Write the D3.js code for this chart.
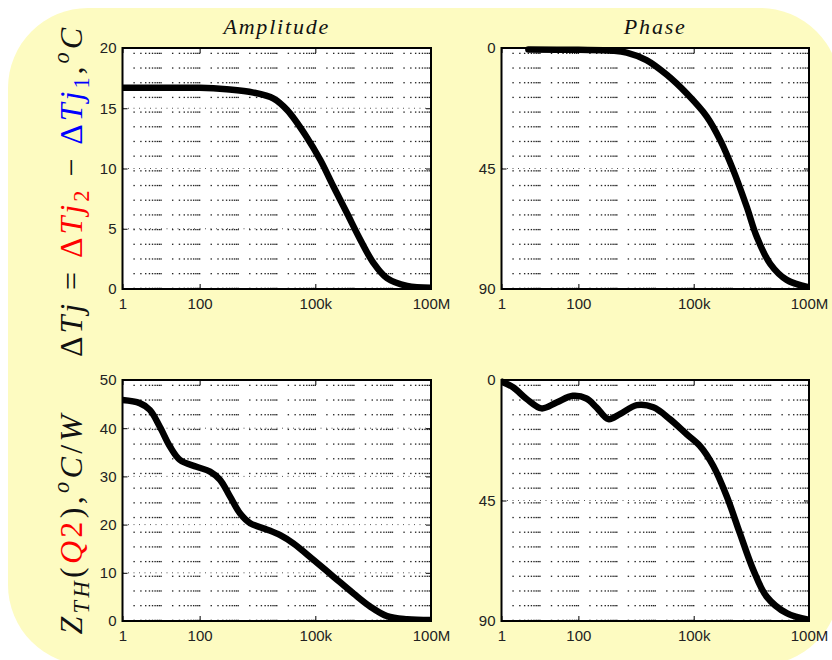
<!DOCTYPE html>
<html>
<head>
<meta charset="utf-8">
<script src="https://cdn.jsdelivr.net/npm/d3@7/dist/d3.min.js"></script>
<style>
  body { margin: 0; background: #ffffff; }
  svg { display: block; }
  .tick text { font-family: "Liberation Sans", Arial, sans-serif; font-size: 15px; fill: #222; }
</style>
</head>
<body>
<svg id="chart" width="832" height="660"></svg>
<script>
// Frequency axis (Hz, log scale)
const freqTicks = [1, 100, 1e5, 1e8];
const freqTickLabels = ["1", "100", "100k", "100M"];

// Junction temperature swing amplitude, °C
const ampTicks = [0, 5, 10, 15, 20];
const ampFreq  = [1, 10, 100, 500, 2500, 8300, 18600, 60000, 135000, 295000, 660000, 1.48e6, 3.24e6, 7.2e6, 2.4e7, 1e8];
const ampValue = [16.7, 16.7, 16.7, 16.57, 16.3, 15.8, 14.85, 12.6, 10.7, 8.5, 6.3, 4.07, 2.15, 0.9, 0.25, 0.1];

// Junction temperature swing phase lag, degrees
const phaseTicks = [0, 45, 90];
const tjPhaseFreq  = [5, 100, 800, 1800, 5900, 20000, 66000, 219000, 490000, 1.07e6, 2.4e6, 4.37e6, 9.8e6, 2.63e7, 1e8];
const tjPhaseValue = [0.6, 0.7, 1.0, 1.7, 4.5, 10, 17, 25.6, 34.4, 45.6, 59.3, 70.5, 80.6, 86.6, 89.4];

// Thermal impedance magnitude of Q2, °C/W
const zTicks = [0, 10, 20, 30, 40, 50];
const zFreq  = [1, 2.8, 5.1, 9.3, 17, 31, 83, 186, 339, 617, 1122, 2042, 5495, 12300, 26900, 89100, 295000, 977000, 2.63e6, 7.24e6, 2.4e7, 1e8];
const zValue = [45.85, 45.2, 43.8, 40.3, 36.2, 33.4, 32.0, 31.0, 29.3, 25.8, 22.3, 20.3, 19.0, 17.8, 16.1, 12.7, 9.2, 5.7, 3.0, 1.0, 0.35, 0.2];

// Thermal impedance phase lag, degrees
const zPhaseFreq  = [1, 2, 4.5, 11, 27, 72, 162, 295, 603, 1200, 3300, 8900, 24000, 66000, 145000, 324000, 724000, 1.58e6, 3.55e6, 7.9e6, 2.63e7, 1e8];
const zPhaseValue = [0.6, 2.7, 7.1, 10.6, 8.4, 5.9, 6.9, 10.2, 14.6, 12.75, 9.4, 10.2, 14.6, 20.25, 24.6, 32.1, 43.4, 57.1, 70.9, 80.9, 87.1, 89.6];

const svg = d3.select("#chart");

// Rounded pale-yellow backdrop
svg.append("rect")
  .attr("x", 8).attr("y", 8)
  .attr("width", 832).attr("height", 657)
  .attr("rx", 80).attr("ry", 80)
  .attr("fill", "#fdfbc1");

let clipId = 0;

function drawPanel(opt) {
  const { x0, x1, y0, y1 } = opt;
  const x = d3.scaleLog().domain([1, 1e8]).range([x0, x1]);
  const y = d3.scaleLinear().domain(opt.yDomain).range(opt.yRange === "down" ? [y0, y1] : [y1, y0]);
  const g = svg.append("g");

  g.append("rect")
    .attr("x", x0).attr("y", y0)
    .attr("width", x1 - x0).attr("height", y1 - y0)
    .attr("fill", "#ffffff");

  // Minor log grid: dotted verticals at 2..10 within each decade
  const cols = [];
  for (let d = 0; d < 8; d++) for (let k = 2; k <= 10; k++) cols.push(k * Math.pow(10, d));
  const rows = d3.range(17).map(i => y0 + 5.3 + i * (y1 - y0 - 6) / 16);
  const dots = [];
  cols.forEach(c => rows.forEach(r => dots.push([x(c), r])));
  g.append("g").selectAll("rect").data(dots).join("rect")
    .attr("x", d => d[0] - 0.7).attr("y", d => d[1] - 0.6)
    .attr("width", 1.4).attr("height", 1.3)
    .attr("fill", "#222");

  // Major horizontal grid at interior y ticks
  g.append("g").selectAll("line")
    .data(opt.yTicks.filter(t => t !== opt.yDomain[0] && t !== opt.yDomain[1]))
    .join("line")
    .attr("x1", x0).attr("x2", x1)
    .attr("y1", d => y(d)).attr("y2", d => y(d))
    .attr("stroke", "#555").attr("stroke-width", 1)
    .attr("stroke-dasharray", "1,4.5");

  // Response curve
  const id = "clip" + (clipId++);
  svg.append("clipPath").attr("id", id)
    .append("rect").attr("x", x0).attr("y", y0 - 2)
    .attr("width", x1 - x0).attr("height", y1 - y0 + 2);
  const pts = opt.freq.map((f, i) => ({ f, v: opt.values[i] }));
  g.append("path")
    .datum(pts)
    .attr("clip-path", `url(#${id})`)
    .attr("fill", "none")
    .attr("stroke", "#000")
    .attr("stroke-width", 6.5)
    .attr("stroke-linejoin", "round")
    .attr("stroke-linecap", "round")
    .attr("d", d3.line().x(d => x(d.f)).y(d => y(d.v)).curve(d3.curveCatmullRom.alpha(0.5)));

  // Axes with inward ticks
  const fmtX = d => freqTickLabels[freqTicks.indexOf(d)];
  const ax = (gen, tx, ty) => {
    const a = g.append("g").attr("transform", `translate(${tx},${ty})`).call(gen);
    a.select(".domain").remove();
    a.selectAll(".tick line").attr("stroke", "#000").attr("stroke-width", 1);
    return a;
  };
  ax(d3.axisBottom(x).tickValues(freqTicks).tickFormat(fmtX).tickSize(-5).tickPadding(9), 0, y1);
  ax(d3.axisTop(x).tickValues(freqTicks).tickFormat("").tickSize(-5), 0, y0);
  ax(d3.axisLeft(y).tickValues(opt.yTicks).tickFormat(d3.format("d")).tickSize(-5).tickPadding(6), x0, 0);
  ax(d3.axisRight(y).tickValues(opt.yTicks).tickFormat("").tickSize(-5), x1, 0);

  // Frame
  g.append("rect")
    .attr("x", x0).attr("y", y0)
    .attr("width", x1 - x0).attr("height", y1 - y0)
    .attr("fill", "none").attr("stroke", "#000").attr("stroke-width", 2);
}

const L = { x0: 122.5, x1: 431 }, R = { x0: 501.5, x1: 809 };
const T = { y0: 48, y1: 289 }, B = { y0: 380, y1: 621 };

drawPanel({ ...L, ...T, yDomain: [0, 20], yRange: "up", yTicks: ampTicks, freq: ampFreq, values: ampValue });
drawPanel({ ...R, ...T, yDomain: [0, 90], yRange: "down", yTicks: phaseTicks, freq: tjPhaseFreq, values: tjPhaseValue });
drawPanel({ ...L, ...B, yDomain: [0, 50], yRange: "up", yTicks: zTicks, freq: zFreq, values: zValue });
drawPanel({ ...R, ...B, yDomain: [0, 90], yRange: "down", yTicks: phaseTicks, freq: zPhaseFreq, values: zPhaseValue });

// Column titles
const titleFont = '"Liberation Serif", "Times New Roman", serif';
[["Amplitude", (L.x0 + L.x1) / 2], ["Phase", (R.x0 + R.x1) / 2]].forEach(([t, cx]) => {
  svg.append("text")
    .attr("x", cx).attr("y", 34)
    .attr("text-anchor", "middle")
    .attr("font-family", titleFont)
    .attr("font-style", "italic")
    .attr("font-size", 22)
    .attr("letter-spacing", 1.8)
    .attr("fill", "#111")
    .text(t);
});

// Rotated math-style y labels; each part: [text, italic, colour, shift]
// The label is spread to the requested length along the axis.
function mathLabel(parts, cx, cy, size, length) {
  const t = svg.append("text")
    .attr("font-family", titleFont)
    .attr("font-size", size)
    .attr("fill", "#111")
    .attr("text-anchor", "middle")
    .attr("transform", `translate(${cx},${cy}) rotate(-90)`);
  let cur = 0;
  parts.forEach(([s, it, col, shift]) => {
    const sh = shift || 0;
    const ts = t.append("tspan")
      .attr("font-style", it ? "italic" : "normal")
      .attr("fill", col || "#111")
      .attr("dy", (sh - cur) * size)
      .text(s);
    if (sh !== 0) ts.attr("font-size", size * 0.7);
    cur = sh;
  });
  const n = parts.reduce((a, p) => a + p[0].length, 0);
  const len = t.node().getComputedTextLength();
  t.attr("letter-spacing", Math.max(0, (length - len) / n));
  return t;
}

const red = "#ff0000", blue = "#0000ff";
mathLabel([
  ["\u0394", false], ["Tj", true], [" = ", false],
  ["\u0394", false, red], ["Tj", true, red], ["2", false, red, 0.22],
  [" \u2212 ", false, null, 0],
  ["\u0394", false, blue], ["Tj", true, blue], ["1", false, blue, 0.22],
  [",", false, null, 0], ["o", true, null, -0.42], ["C", true, null, 0]
], 82, 191, 32, 332);

mathLabel([
  ["Z", true], ["TH", true, null, 0.22], ["(", false, null, 0],
  ["Q", true, red], ["2", false, red], [")", false],
  [",", false], ["o", true, null, -0.42], ["C", true, null, 0], ["/", false], ["W", true]
], 82, 523, 32, 223);
</script>
</body>
</html>
